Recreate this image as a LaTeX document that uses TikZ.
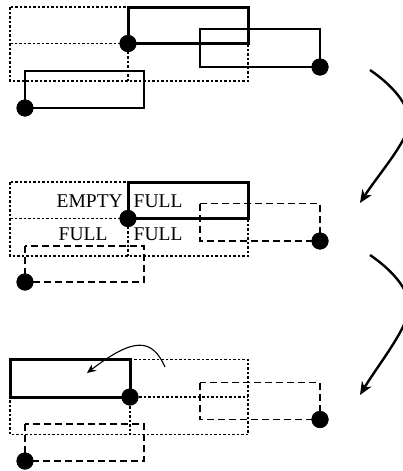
\documentclass[tikz,border=0pt]{standalone}
\usepackage{fontspec}
\setmainfont{Liberation Serif}
\usetikzlibrary{arrows.meta}
\begin{document}
\begin{tikzpicture}[x=1pt,y=-1pt,
  dotl/.style={line width=1.25pt, dash pattern=on 2.5pt off 2pt},
  dashl/.style={line width=1.3pt, dash pattern=on 7pt off 4pt},
  thickl/.style={line width=3pt},
  thinl/.style={line width=1.4pt},
  blob/.style={circle, fill=black, minimum size=17pt, inner sep=0pt},
  lbl/.style={inner sep=0pt, font=\fontsize{19.5}{22}\selectfont},
  bigarrow/.style={line width=2.4pt, -{Stealth[length=13pt,width=11pt,inset=4pt]}},
  smallarrow/.style={line width=1.1pt, -{Stealth[length=9pt,width=8pt,inset=3pt]}},
]
\clip (0,0) rectangle (403,471);

% ---------- panel 1 ----------
\node[blob] (p1m) at (128,43.5) {};
\node[blob] (p1r) at (320,67) {};
\node[blob] (p1l) at (25,108) {};
\draw[dotl] (10,7) rectangle (248,81);
\draw[dotl] (10,43.5) -- (p1m.center) -- (128,81);
\draw[thinl] (200,29) rectangle (320,67);
\draw[thinl] (25,71) rectangle (144,108);
\draw[thickl] (128,7) rectangle (248,43.5);
\node[blob] at (p1m) {};
\node[blob] at (p1r) {};
\node[blob] at (p1l) {};

% ---------- panel 2 ----------
\node[blob] (p2m) at (128,218.5) {};
\node[blob] (p2r) at (320,241) {};
\node[blob] (p2l) at (25,282) {};
\draw[dotl] (10,182) rectangle (248,256);
\draw[dotl] (10,218.5) -- (p2m.center) -- (128,256);
\draw[dashl] (200,203.5) rectangle (320,241);
\draw[dashl] (25,246) rectangle (144,282);
\draw[thickl] (128,182) rectangle (248,218.5);
\node[blob] at (p2m) {};
\node[blob] at (p2r) {};
\node[blob] at (p2l) {};
\node[lbl, anchor=base east] (t1) at (123,207.5) {EMPTY};
\node[lbl, anchor=base west] (t2) at (133.5,207.5) {FULL};
\node[lbl, anchor=base west] (t3) at (58.5,240.5) {FULL};
\node[lbl, anchor=base west] (t4) at (133.5,240.5) {FULL};

% ---------- panel 3 ----------
\node[blob] (p3m) at (130,397) {};
\node[blob] (p3r) at (320,419.5) {};
\node[blob] (p3l) at (25,461) {};
\draw[dotl] (10,359.5) rectangle (248,434.5);
\draw[dotl] (p3m.center) -- (248,397);
\draw[dotl] (p3m.center) -- (130,434.5);
\draw[dashl] (200,382.5) rectangle (320,419.5);
\draw[dashl] (25,424) rectangle (144,461);
\draw[thickl] (10,359.5) rectangle (130,397);
\node[blob] at (p3m) {};
\node[blob] at (p3r) {};
\node[blob] at (p3l) {};
\coordinate (s0) at (165,367);
\coordinate (s1) at (87,373);
\draw[smallarrow] (s0) .. controls (152,338) and (134,337) .. (s1);

% ---------- big arrows ----------
\coordinate (b1s) at (370,70);
\coordinate (b1m) at (409,123);
\coordinate (b1e) at (360,203);
\draw[bigarrow] (b1s) .. controls (392,85) and (410,105) .. (b1m)
  .. controls (408,141) and (378,175) .. (b1e);
\coordinate (b2s) at (370,255);
\coordinate (b2m) at (409,308);
\coordinate (b2e) at (360,395);
\draw[bigarrow] (b2s) .. controls (392,270) and (410,290) .. (b2m)
  .. controls (408,328) and (378,365) .. (b2e);
\end{tikzpicture}
\end{document}
